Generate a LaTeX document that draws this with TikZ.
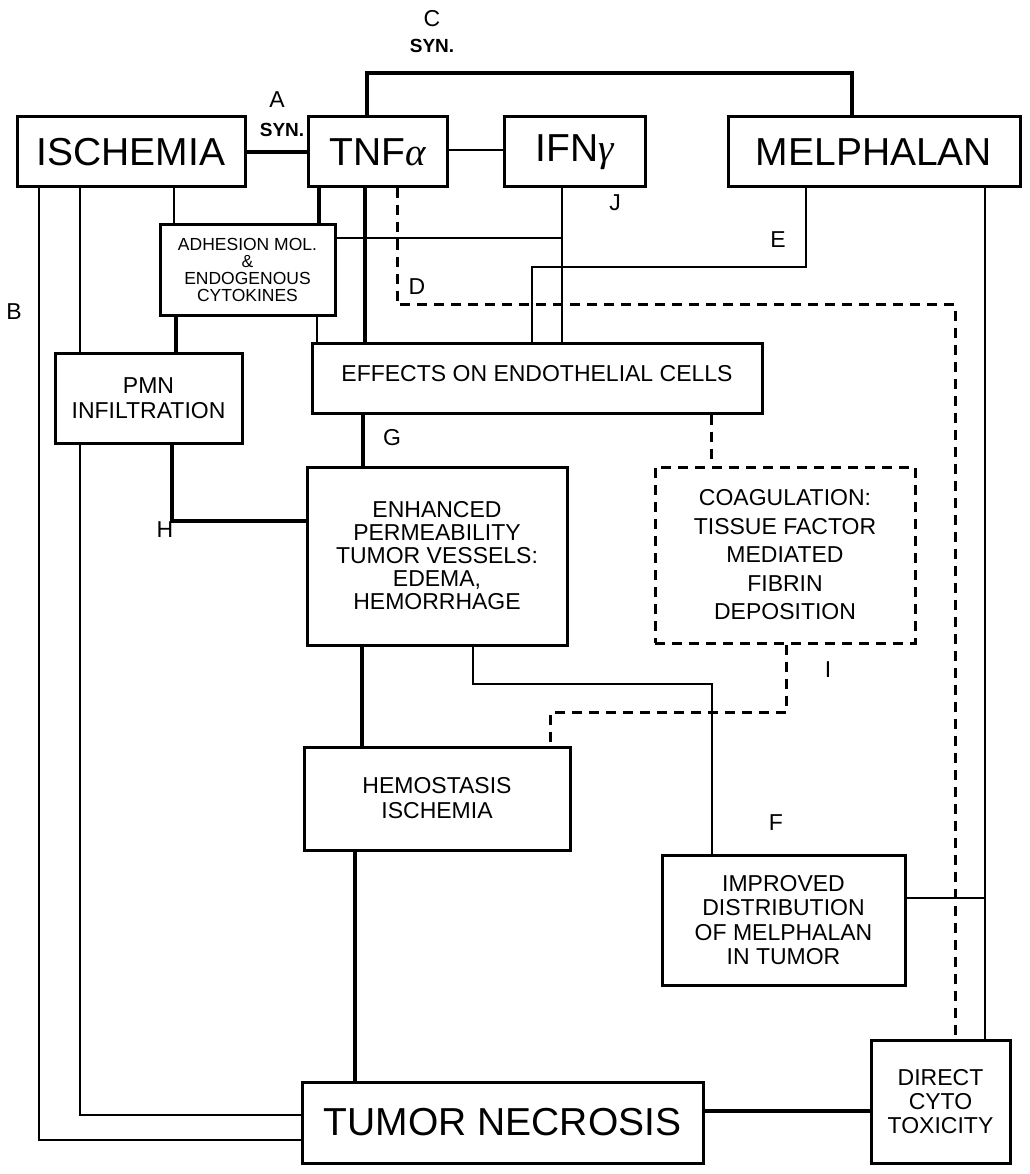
\documentclass[tikz,border=0pt]{standalone}
\usepackage{fontspec}
\setmainfont{Liberation Sans}
\newfontfamily\greekfont{Liberation Serif}
\usepackage{tikz}
\usetikzlibrary{positioning}
\tikzset{box/.style={shape=rectangle, draw=black, line width=3pt, fill=white,
    inner sep=0pt, align=center, font=\fontsize{23}{25}\selectfont}}
\tikzset{bigbox/.style={box, font=\fontsize{39}{44}\selectfont}}
\tikzset{dbox/.style={box, dash pattern=on 10pt off 7pt}}
\tikzset{link/.style={draw=black, line width=2pt}}
\tikzset{strong/.style={draw=black, line width=4pt}}
\tikzset{weak/.style={draw=black, line width=3pt, dash pattern=on 10pt off 7pt}}
\tikzset{lbl/.style={inner sep=0pt, font=\fontsize{23}{25}\selectfont}}
\tikzset{syn/.style={inner sep=0pt, font=\bfseries\fontsize{19}{19}\selectfont}}

\begin{document}
\begin{tikzpicture}[x=1pt, y=-1pt]
  \tikzstyle{every node}=[text=black]
    \useasboundingbox (0,0) rectangle (1029,1174);

    %%%% Top row
    \node[bigbox, minimum width=228, minimum height=70] (isch) at (131,152) {ISCHEMIA};
    \node[bigbox, minimum width=139, minimum height=70] (tnf) at (377.5,152) {TNF{\greekfont\itshape α}};
    \node[bigbox, minimum width=141, minimum height=70] (ifn) at (574.5,152) {IFN{\greekfont\itshape γ}};
    \node[bigbox, minimum width=292, minimum height=70] (melph) at (874,152) {MELPHALAN};

    %%%% Middle boxes
    \node[box, font=\fontsize{17.5}{17}\selectfont, minimum width=175, minimum height=90] (adh) at (247.5,270) {ADHESION MOL.\\\&\\ENDOGENOUS\\CYTOKINES};
    \node[box, minimum width=187, minimum height=90] (pmn) at (148.5,398) {PMN\\INFILTRATION};
    \node[box, minimum width=450, minimum height=70, text depth=10pt] (endo) at (537,378) {EFFECTS ON ENDOTHELIAL CELLS};
    \node[box, font=\fontsize{23}{23}\selectfont, minimum width=260, minimum height=178] (perm) at (437,556) {ENHANCED\\PERMEABILITY\\TUMOR VESSELS:\\EDEMA,\\HEMORRHAGE};
    \node[dbox, font=\fontsize{23}{28.5}\selectfont, minimum width=260, minimum height=176] (coag) at (785,555) {COAGULATION:\\TISSUE FACTOR\\MEDIATED\\FIBRIN\\DEPOSITION};
    \node[box, minimum width=266, minimum height=103] (hemo) at (437,798.5) {HEMOSTASIS\\ISCHEMIA};
    \node[box, font=\fontsize{23}{24.5}\selectfont, minimum width=243, minimum height=130] (impr) at (783.5,920) {IMPROVED\\DISTRIBUTION\\OF MELPHALAN\\IN TUMOR};

    %%%% Bottom row
    \node[bigbox, minimum width=401, minimum height=81] (necr) at (502.5,1122.5) {TUMOR NECROSIS};
    \node[box, font=\fontsize{23}{24}\selectfont, minimum width=139, minimum height=123] (cyto) at (940.5,1101.5) {DIRECT\\CYTO\\TOXICITY};

    %%%% Letters
    \node[lbl] (lA) at (277,100) {A};
    \node[syn] (synA) at (282,130) {SYN.};
    \node[lbl] (lC) at (432,19) {C};
    \node[syn] (synC) at (432,46) {SYN.};
    \node[lbl] (lB) at (14,312) {B};
    \node[lbl] (lD) at (417,287) {D};
    \node[lbl] (lE) at (778,240) {E};
    \node[lbl] (lF) at (776,823) {F};
    \node[lbl] (lG) at (392,438) {G};
    \node[lbl] (lH) at (165,530) {H};
    \node[lbl] (lI) at (828,670) {I};
    \node[lbl] (lJ) at (615,203) {J};

    %%%% Synergy
    \draw[strong] (isch.east) -- (tnf.west);
    \draw[link] ([yshift=2]tnf.east) -- ([yshift=2]ifn.west);
    \draw[strong] ([xshift=-10.5]tnf.north) -- ++(0,-42) -| ([xshift=-22]melph.north);

    %%%% Ischemia
    \draw[link] ([xshift=23]isch.south west) |- ([yshift=25]necr.south west);
    \draw[link] ([xshift=64]isch.south west) -- ([xshift=26]pmn.north west);
    \draw[link] ([xshift=26]pmn.south west) |- ([yshift=50]necr.south west);
    \draw[link] ([xshift=15]adh.north west |- isch.south) -- ([xshift=15]adh.north west);

    %%%% TNF
    \draw[strong] ([xshift=-18]adh.north east |- tnf.south) -- ([xshift=-18]adh.north east);
    \draw[strong] ([xshift=-12.5]tnf.south) -- ([xshift=-12.5]tnf.south |- endo.north);
    \draw[weak] ([xshift=19.5]tnf.south) -- ++(0,116) -| ([xshift=14.5]cyto.north);

    %%%% IFN
    \draw[link] ([xshift=-12.5]ifn.south) -- ([xshift=-12.5]ifn.south |- endo.north);
    \draw[link] ([yshift=32]adh.east) -- ([xshift=-12.5,yshift=32]ifn.south |- adh.east);

    %%%% Adhesion molecules
    \draw[strong] ([xshift=17]adh.south west) -- ([xshift=17]adh.south west |- pmn.north);
    \draw[link] ([xshift=-20]adh.south east) -- ([xshift=-20]adh.south east |- endo.north);

    %%%% Melphalan
    \draw[link] ([xshift=-68]melph.south) -- ++(0,78) -| ([xshift=-5]endo.north);
    \draw[link] ([xshift=111]melph.south) -- ([xshift=111]melph.south |- cyto.north);
    \draw[link] ([yshift=22]impr.east) -- ([xshift=111,yshift=22]melph.south |- impr.east);

    %%%% Endothelial cells
    \draw[strong] ([xshift=-74]perm.north |- endo.south) -- ([xshift=-74]perm.north);
    \draw[weak] ([xshift=-74]coag.north |- endo.south) -- ([xshift=-74]coag.north);
    \draw[strong] ([xshift=23.5]pmn.south) |- ([yshift=35]perm.west);

    %%%% Permeability, coagulation
    \draw[strong] ([xshift=-75]hemo.north |- perm.south) -- ([xshift=-75]hemo.north);
    \draw[link] ([xshift=36]perm.south) -- ++(0,37) -| ([xshift=-71.5]impr.north);
    \draw[weak] ([xshift=1]coag.south) -- ++(0,68) -| ([xshift=113]hemo.north);

    %%%% Necrosis
    \draw[strong] ([xshift=-82]hemo.south) -- ([xshift=-82]hemo.south |- necr.north);
    \draw[strong] ([yshift=11.5]necr.east) -- ([yshift=11.5]necr.east -| cyto.west);

\end{tikzpicture}
\end{document}
